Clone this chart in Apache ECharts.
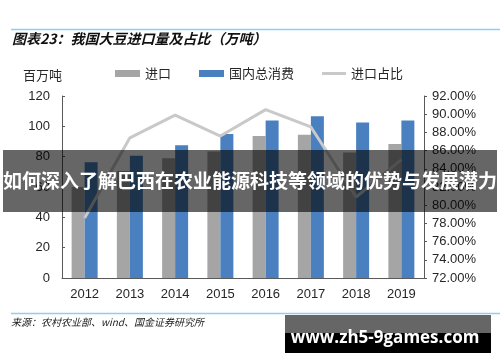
<!DOCTYPE html>
<html>
<head>
<meta charset="utf-8">
<script src="https://cdn.jsdelivr.net/npm/echarts@6/dist/echarts.min.js"></script>
<style>html,body{margin:0;padding:0;background:#fff;}#c{width:500px;height:362px;}</style>
</head>
<body>
<div id="c"></div>
<script>
var categories = ['2012', '2013', '2014', '2015', '2016', '2017', '2018', '2019'];
var importVol = [60.0, 70.5, 79.0, 83.4, 93.7, 94.4, 82.7, 88.4];
var consumption = [76.4, 80.6, 87.5, 95.0, 103.8, 106.7, 102.5, 103.8];
var importShare = [78.6, 87.4, 89.9, 87.6, 90.5, 88.6, 80.9, 85.0];
var seriesNames = ['进口', '国内总消费', '进口占比'];
var titleText = '图表23：我国大豆进口量及占比（万吨）';
var sourceText = '来源：农村农业部、wind、国金证券研究所';
var bannerText = '如何深入了解巴西在农业能源科技等领域的优势与发展潜力';
var watermarkText = 'www.zh5-9games.com';
var leftAxisName = '百万吨';

var chart = echarts.init(document.getElementById('c'));
var numFont = '"Liberation Sans", Arial, sans-serif';
var cjkFont = '"Noto Sans CJK SC", sans-serif';
var axisColor = '#595959';
var textColor = '#262626';

chart.setOption({
  animation: false,
  textStyle: { fontFamily: cjkFont },
  grid: { left: 62, right: 76, top: 96, bottom: 84 },
  legend: [
    {
      left: 115, top: 67, padding: 0,
      itemWidth: 25, itemHeight: 7, itemGap: 28,
      textStyle: { fontSize: 13, color: textColor, fontFamily: cjkFont },
      data: [
        { name: seriesNames[0], icon: 'rect' },
        { name: seriesNames[1], icon: 'rect' }
      ]
    },
    {
      left: 322, top: 67, padding: 0,
      itemWidth: 24, itemHeight: 3,
      textStyle: { fontSize: 13, color: textColor, fontFamily: cjkFont },
      data: [{ name: seriesNames[2], icon: 'rect' }]
    }
  ],
  xAxis: {
    type: 'category',
    data: categories,
    axisLine: { lineStyle: { color: axisColor, width: 1 } },
    axisTick: { inside: true, length: 4, lineStyle: { color: axisColor } },
    axisLabel: { fontSize: 13, color: textColor, fontFamily: numFont, margin: 10 }
  },
  yAxis: [
    {
      type: 'value', min: 0, max: 120, interval: 20,
      name: leftAxisName,
      nameLocation: 'end',
      nameGap: 14,
      nameTextStyle: { fontSize: 13, color: textColor, fontFamily: cjkFont, align: 'right' },
      axisLine: { show: true, lineStyle: { color: axisColor } },
      axisTick: { show: true, inside: true, length: 3, lineStyle: { color: axisColor } },
      splitLine: { show: false },
      axisLabel: { fontSize: 13, color: textColor, fontFamily: numFont, margin: 12 }
    },
    {
      type: 'value', min: 72, max: 92, interval: 2,
      position: 'right',
      axisLine: { show: true, lineStyle: { color: axisColor } },
      axisTick: { show: true, inside: false, length: 3, lineStyle: { color: axisColor } },
      splitLine: { show: false },
      axisLabel: {
        fontSize: 13, color: textColor, fontFamily: numFont, margin: 8,
        formatter: function (v) { return v.toFixed(2) + '%'; }
      }
    }
  ],
  series: [
    {
      name: seriesNames[0], type: 'bar', data: importVol,
      barWidth: 13, barGap: '0%',
      itemStyle: { color: '#a5a5a5' }
    },
    {
      name: seriesNames[1], type: 'bar', data: consumption,
      barWidth: 13, barGap: '0%',
      itemStyle: { color: '#4a80bf' }
    },
    {
      name: seriesNames[2], type: 'line', yAxisIndex: 1, data: importShare,
      symbol: 'none', z: 5,
      lineStyle: { color: '#c9c9c9', width: 3 },
      itemStyle: { color: '#c9c9c9' }
    }
  ],
  graphic: [
    { type: 'line', z: 100, shape: { x1: 11, y1: 29.5, x2: 500, y2: 29.5 }, style: { stroke: '#8ccff0', lineWidth: 1.5 } },
    { type: 'text', z: 100, left: 12, top: 32, style: { text: titleText, fill: '#111', font: 'italic bold 14px ' + cjkFont } },
    { type: 'line', z: 100, shape: { x1: 11, y1: 313.5, x2: 500, y2: 313.5 }, style: { stroke: '#8ccff0', lineWidth: 1.5 } },
    { type: 'text', z: 100, left: 11, top: 317, style: { text: sourceText, fill: '#222', font: 'italic 10px ' + cjkFont } },
    { type: 'rect', z: 100, shape: { x: 3, y: 150, width: 494, height: 62 }, style: { fill: 'rgba(0,0,0,0.6)' } },
    { type: 'text', z: 101, x: 250, y: 181, style: { text: bannerText, fill: '#fff', font: 'bold 19px ' + cjkFont, textAlign: 'center', textVerticalAlign: 'middle' } },
    { type: 'rect', z: 100, shape: { x: 285, y: 315, width: 206, height: 18 }, style: { fill: 'rgba(0,0,0,0.6)' } },
    { type: 'rect', z: 100, shape: { x: 285, y: 333, width: 206, height: 20 }, style: { fill: '#000' } },
    { type: 'text', z: 101, x: 385, y: 338, style: { text: watermarkText, fill: '#fff', font: 'bold 17px "Open Sans", sans-serif', textAlign: 'center', textVerticalAlign: 'middle' } }
  ]
});
</script>
</body>
</html>
